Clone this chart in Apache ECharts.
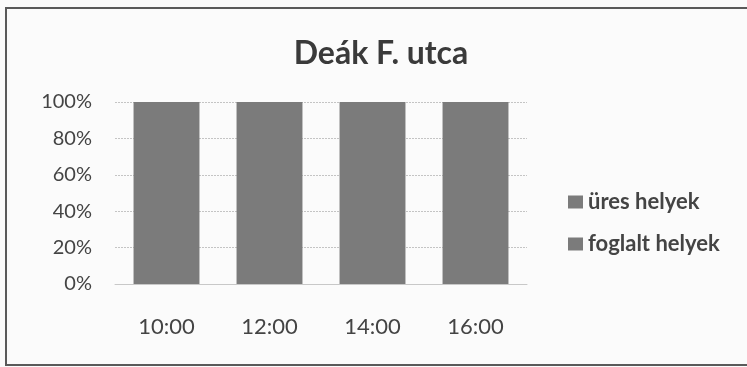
<!DOCTYPE html>
<html>
<head>
<meta charset="utf-8">
<script src="https://cdn.jsdelivr.net/npm/echarts@6/dist/echarts.min.js"></script>
<style>
  html, body { margin: 0; padding: 0; background: #fbfbfb; }
  #chart { width: 747px; height: 367px; }
</style>
</head>
<body>
<div id="chart"></div>
<script>
// Parking occupancy on Deák F. utca, by time of day (100% stacked)
const titleText = 'Deák F. utca';
const times = ['10:00', '12:00', '14:00', '16:00'];
const emptySeats = [0, 0, 0, 0];            // üres helyek
const occupiedSeats = [100, 100, 100, 100]; // foglalt helyek
const yTicks = { min: 0, max: 100, interval: 20 };

const font = 'Lato, "Open Sans", sans-serif';
const barColor = '#7b7b7b';

const chart = echarts.init(document.getElementById('chart'));
chart.setOption({
  backgroundColor: '#fbfbfb',
  animation: false,
  title: {
    text: titleText,
    left: 376,
    textAlign: 'center',
    top: 33,
    textStyle: { fontFamily: font, fontSize: 32, fontWeight: 'bold', color: '#3a3a3a' }
  },
  legend: {
    orient: 'vertical',
    left: 563,
    top: 186,
    itemWidth: 15,
    itemHeight: 13,
    itemGap: 20,
    icon: 'rect',
    data: ['üres helyek', 'foglalt helyek'],
    textStyle: { fontFamily: font, fontSize: 22, fontWeight: 'bold', color: '#444', padding: [0, 0, 0, 0] }
  },
  grid: { left: 115, right: 220, top: 102, bottom: 83 },
  xAxis: {
    type: 'category',
    data: times,
    axisLine: { show: true, lineStyle: { color: '#c8c8c8', width: 1 } },
    axisTick: { show: false },
    axisLabel: { fontFamily: font, fontSize: 22, color: '#444', margin: 32 }
  },
  yAxis: {
    type: 'value',
    min: yTicks.min,
    max: yTicks.max,
    interval: yTicks.interval,
    axisLine: { show: false },
    axisTick: { show: false },
    axisLabel: { formatter: '{value}%', fontFamily: font, fontSize: 20, color: '#444', margin: 23 },
    splitLine: { lineStyle: { color: '#c4c4c4', width: 1, type: [2, 1] } }
  },
  series: [
    {
      name: 'foglalt helyek',
      type: 'bar',
      stack: 'total',
      data: occupiedSeats,
      barCategoryGap: '36%',
      itemStyle: { color: barColor }
    },
    {
      name: 'üres helyek',
      type: 'bar',
      stack: 'total',
      data: emptySeats,
      barCategoryGap: '36%',
      itemStyle: { color: barColor }
    }
  ],
  graphic: [
    {
      type: 'rect',
      shape: { x: 6, y: 8, width: 800, height: 357 },
      style: { fill: 'none', stroke: '#5a5a5a', lineWidth: 2 },
      silent: true
    }
  ]
});
</script>
</body>
</html>
